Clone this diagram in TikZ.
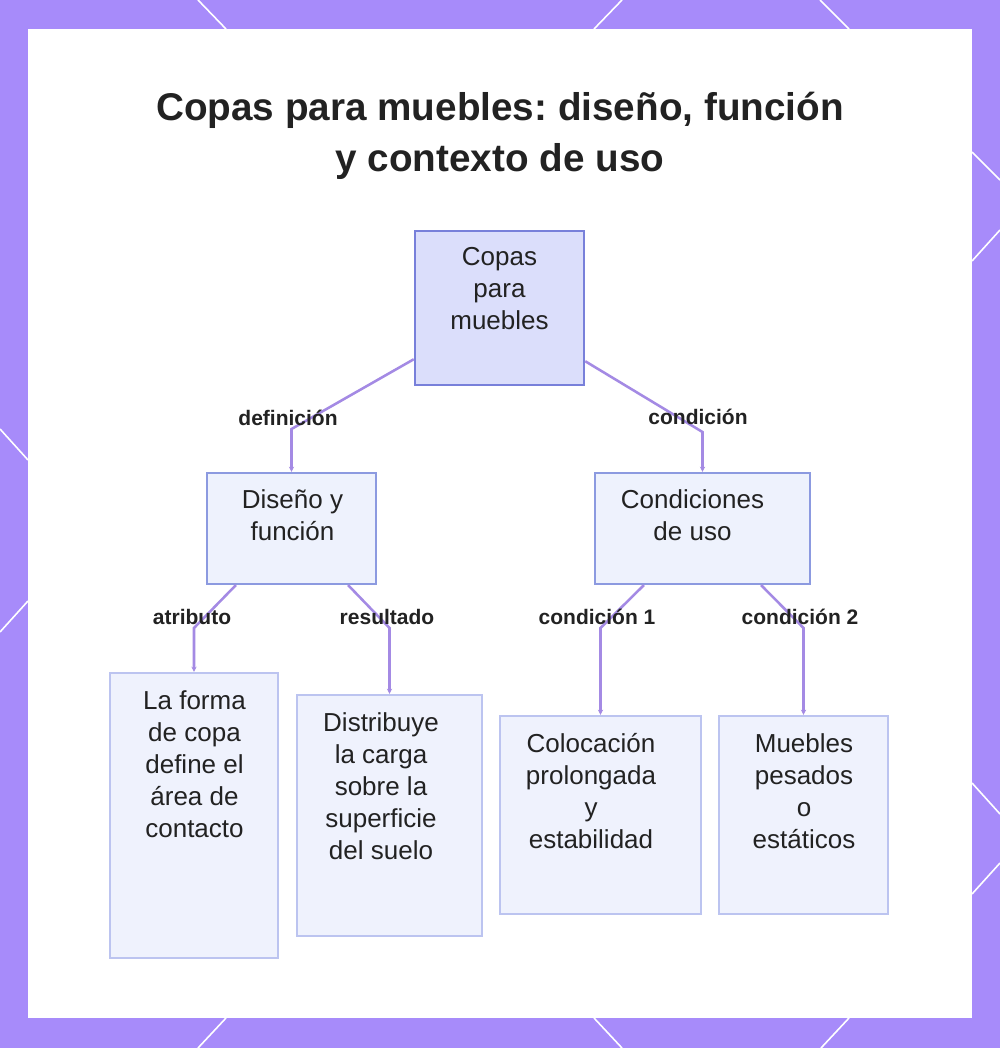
\documentclass[tikz,border=0pt]{standalone}
\usepackage{fontspec}
\setmainfont{Liberation Sans}
\usetikzlibrary{arrows.meta,calc}
\definecolor{bordpurple}{RGB}{167,139,250}
\definecolor{rootfill}{RGB}{219,222,251}
\definecolor{rootdraw}{RGB}{120,128,218}
\definecolor{midfill}{RGB}{238,242,253}
\definecolor{middraw}{RGB}{140,154,224}
\definecolor{leaffill}{RGB}{239,242,253}
\definecolor{leafdraw}{RGB}{188,196,240}
\definecolor{connc}{RGB}{164,138,228}
\definecolor{txtc}{RGB}{34,34,34}
\frenchspacing
\begin{document}
\begin{tikzpicture}[x=0.75pt,y=-0.75pt,
  rootbox/.style={draw=rootdraw,fill=rootfill,line width=1.9pt,inner sep=0pt},
  midbox/.style={draw=middraw,fill=midfill,line width=1.6pt,inner sep=0pt},
  leafbox/.style={draw=leafdraw,fill=leaffill,line width=1.6pt,inner sep=0pt},
  boxtext/.style={anchor=north,inner sep=0pt,align=center,text=txtc,
     font=\fontsize{19.5pt}{24pt}\selectfont},
  conn/.style={draw=connc,line width=1.9pt,-{Stealth[length=4pt,width=4pt]}},
  lbl/.style={font=\fontsize{15.75pt}{18pt}\selectfont\bfseries,text=txtc,
     inner sep=0pt,text height=0.72em,text depth=0pt,anchor=center},
  deco/.style={white,line width=1.2pt}]
% background and frame
\fill[bordpurple] (0,0) rectangle (1000,1048);
\useasboundingbox (0,0) rectangle (1000,1048);
\fill[white] (28,29) rectangle (972,1018);
% white lines in the frame
\draw[deco] (198,0) -- (226,29);
\draw[deco] (622,0) -- (594,29);
\draw[deco] (820,0) -- (849,29);
\draw[deco] (226,1018) -- (198,1048);
\draw[deco] (594,1018) -- (622,1048);
\draw[deco] (849,1018) -- (821,1048);
\draw[deco] (0,429) -- (28,460);
\draw[deco] (28,601) -- (0,632);
\draw[deco] (972,152) -- (1000,180);
\draw[deco] (972,261) -- (1000,230);
\draw[deco] (972,783) -- (1000,814);
\draw[deco] (972,894) -- (1000,863);
% title
\node[font=\fontsize{29pt}{38pt}\selectfont\bfseries,text=txtc,align=center,inner sep=0pt] (title) at (500,136)
  {Copas para muebles: diseño, función\\y contexto de uso};
% boxes
\node[rootbox,minimum width=126.75pt,minimum height=115.5pt] (root) at (499.5,308) {};
\node[boxtext] (roott) at (499.5,247) {Copas\\para\\muebles};
\node[midbox,minimum width=126.75pt,minimum height=83.25pt] (dis) at (291.5,528.5) {};
\node[boxtext] (dist) at (292.5,489) {Diseño y\\función};
\node[midbox,minimum width=161.25pt,minimum height=83.25pt] (cond) at (702.5,528.5) {};
\node[boxtext] (condt) at (692.5,489) {Condiciones\\de uso};
\node[leafbox,minimum width=126pt,minimum height=213.75pt] (forma) at (194,815.5) {};
\node[boxtext] (format) at (194.5,690) {La forma\\de copa\\define el\\área de\\contacto};
\node[leafbox,minimum width=138.75pt,minimum height=180.75pt] (distr) at (389.5,815.5) {};
\node[boxtext] (distrt) at (381,712) {Distribuye\\la carga\\sobre la\\superficie\\del suelo};
\node[leafbox,minimum width=150.75pt,minimum height=148.5pt] (col) at (600.5,815) {};
\node[boxtext] (colt) at (591,733) {Colocación\\prolongada\\y\\estabilidad};
\node[leafbox,minimum width=126.75pt,minimum height=148.5pt] (mue) at (803.5,815) {};
\node[boxtext] (muet) at (804,733) {Muebles\\pesados\\o\\estáticos};
% bend points
\coordinate (b1) at (291.5,429);
\coordinate (b2) at (702.5,432);
\coordinate (b3) at (194,628);
\coordinate (b4) at (389.5,628);
\coordinate (b5) at (600.5,628);
\coordinate (b6) at (803.5,628);
% connectors
\draw[conn] ($(root.south west)+(0,-27)$) -- (b1) -- (dis.north);
\draw[conn] ($(root.south east)+(0,-25)$) -- (b2) -- (cond.north);
\draw[conn] ($(dis.south west)+(30,0)$) -- (b3) -- (forma.north);
\draw[conn] ($(dis.south east)+(-29,0)$) -- (b4) -- (distr.north);
\draw[conn] ($(cond.south west)+(50,0)$) -- (b5) -- (col.north);
\draw[conn] ($(cond.south east)+(-50,0)$) -- (b6) -- (mue.north);
% labels
\node[lbl] (l1) at (288,421) {definición};
\node[lbl] (l2) at (698,420) {condición};
\node[lbl] (l3) at (192,620) {atributo};
\node[lbl] (l4) at (387,620) {resultado};
\node[lbl] (l5) at (597,620) {condición 1};
\node[lbl] (l6) at (800,620) {condición 2};
\end{tikzpicture}
\end{document}
